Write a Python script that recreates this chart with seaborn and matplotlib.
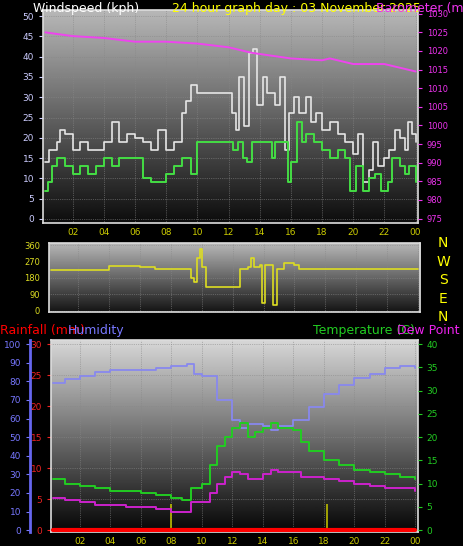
import numpy as np
import pandas as pd
import matplotlib
matplotlib.use("Agg")
import matplotlib.pyplot as plt
import seaborn as sns

sns.set_style("dark")
plt.rcParams['font.family'] = ['DejaVu Sans']

# ---- data ----
gust_h = [0.25,0.5,1,1.2,1.5,2,2.5,3,3.5,4,4.5,5,5.5,6,6.5,7,7.5,8,8.5,9,9.3,9.6,10,12,12.2,12.5,12.7,13,13.3,13.6,13.8,14.2,14.5,15,15.3,15.6,15.9,16.2,16.5,17,17.3,17.6,18,18.5,19,19.5,20,20.3,20.6,21,21.3,21.6,22,22.3,22.7,23,23.3,23.5,23.8,24]
gust_v = [14,17,19,22,21,17,19,17,17,19,24,19,21,20,19,17,22,17,19,26,29,33,31,31,26,22,35,23,41,42,28,35,31,28,35,17,26,30,26,30,24,26,22,24,21,19,16,21,9,12,19,13,15,17,22,20,17,24,21,19]
avg_h = [0.25,0.4,0.7,1,1.5,2,2.5,3,3.5,4,4.5,5,6,6.5,7,8,8.5,9,9.6,10,12,12.3,12.6,12.9,13.2,13.5,14.8,15,15.8,16,16.4,16.7,17,17.5,18,18.5,19,19.5,19.8,20.2,20.6,21,21.4,21.8,22.2,22.5,23,23.3,23.6,24]
avg_v = [7,9,13,15,13,11,13,11,13,15,13,15,15,10,9,11,13,15,11,19,19,17,19,15,14,19,15,19,9,14,24,19,21,19,17,15,17,15,7,13,7,10,11,7,9,15,13,11,13,9]
pres_h = [0.25,2,4,6,8,10,12,13.5,16,18,18.5,20,22,23,24]
pres_v = [1025,1024,1023.5,1022.5,1022.5,1022,1021,1019.5,1018,1017.5,1018,1016.5,1016.5,1015.5,1014.5]
dir_h = [0.2,4,6,7,9.2,9.3,9.5,9.7,9.9,10,10.3,12.3,12.5,13,13.2,13.4,13.8,13.9,14.1,14.5,14.6,14.8,14.9,15.3,16,16.3,24]
dir_v = [225,245,240,230,230,180,160,290,340,240,130,130,230,240,290,240,250,40,250,250,30,30,230,260,250,230,230]
hum_h = [0.25,1,2,3,4,6,7,8,9,9.5,10,11,12,12.5,13,14,14.5,15,16,17,18,19,20,21,22,23,23.5,24]
hum_v = [79,81,83,85,86,86,87,88,89.5,84,83,70,59,55,57,56,54,56,59,66,73,78,82,84,87,88,88,87]
temp_h = [0.25,1,2,3,4,5,6,7,8,8.7,9.3,10,10.5,11,11.5,12,12.5,13,13.5,14,14.5,15,16,16.5,17,18,19,20,21,22,23,24]
temp_v = [11,10,9.5,9,8.5,8.5,8,7.5,7,6.5,9,10,14,18,20,22,23,20,21,22,23,22,21.5,19,17,15,14,13,12.5,12,11.5,11]
dew_h = [0.25,1,2,3,4,5,6,7,8,8.7,9.3,10,10.5,11,11.5,12,12.5,13,14,14.5,15,16,16.5,17,18,19,20,21,22,23,24]
dew_v = [7,6.5,6,5.5,5.5,5,5,4.5,4,3.8,6,6,8,10,11.5,12.5,12,11,12,13,12.5,12.5,11.5,11.5,11,10.5,10,9.5,9,9,8.5]
rain_h = [0.25, 24]
rain_v = [0, 0]
sun_h = [8.0, 18.2]
sun_v = [4.3, 4.3]
xt = list(range(2, 25, 2))
xtl = ["02","04","06","08","10","12","14","16","18","20","22","00"]

fig = plt.figure(figsize=(4.64, 5.46), dpi=100, facecolor='black')

def grad(ax, top, bot, ylim):
    g = np.linspace(bot, top, 256).reshape(-1, 1)
    ax.imshow(g, aspect='auto', cmap='gray', vmin=0, vmax=1, origin='lower',
              extent=[0, 24.2, ylim[0], ylim[1]], zorder=0)
    ax.set_xlim(0.1, 24.15)
    ax.set_ylim(*ylim)
    ax.grid(True, color='#888888', lw=0.5, ls=':', zorder=1)
    for s in ax.spines.values():
        s.set_color('#dddddd'); s.set_linewidth(1.2)
    ax.set_xticks(xt); ax.set_xticklabels(xtl)
    ax.tick_params(axis='x', colors='#cccc00', labelsize=6.5, length=0)

# ---- top ----
ax1 = fig.add_axes([0.0927, 0.5916, 0.808, 0.39])
grad(ax1, 0.72, 0.05, (-1, 51.5))
sns.lineplot(x=gust_h, y=gust_v, ax=ax1, color='#e6e6e6', lw=1.2, drawstyle='steps-post', zorder=3)
sns.lineplot(x=avg_h, y=avg_v, ax=ax1, color='#44dd44', lw=1.4, drawstyle='steps-post', zorder=4)
ax1.set_yticks(range(0, 51, 5))
ax1.tick_params(axis='y', colors='#ccccff', labelsize=6.5, length=3, width=0.8)
ax1b = ax1.twinx()
ax1b.set_ylim(973.8, 1031)
sns.lineplot(x=pres_h, y=pres_v, ax=ax1b, color='#ee44ee', lw=1.4, zorder=5)
ax1b.set_yticks(range(975, 1031, 5))
ax1b.tick_params(axis='y', colors='#ee33ee', labelsize=6, length=3)
ax1b.tick_params(axis='x', labelbottom=False, labeltop=False, length=0)
ax1b.set_xlim(0.1, 24.15)
for s in ax1b.spines.values():
    s.set_visible(False)
fig.text(0.072, 0.996, "Windspeed (kph)", color='white', fontsize=9, va='top')
fig.text(0.37, 0.996, "24 hour graph day : 03 November 2025", color='yellow', fontsize=9, va='top')
fig.text(0.81, 0.996, "Barometer (mb)", color='#ee33ee', fontsize=9, va='top')

# ---- middle ----
ax2 = fig.add_axes([0.1056, 0.4286, 0.80, 0.126])
grad(ax2, 0.72, 0.08, (-8, 372))
sns.lineplot(x=dir_h, y=dir_v, ax=ax2, color='#dddd22', lw=1.2, drawstyle='steps-post', zorder=3)
ax2.set_yticks([0, 90, 180, 270, 360])
ax2.tick_params(axis='y', colors='#dddd22', labelsize=6, length=3)
ax2.tick_params(axis='x', labeltop=False, labelbottom=False)
for i, c in enumerate("NWSEN"):
    fig.text(0.955, 0.555 - i * 0.034, c, color='yellow', fontsize=10, ha='center', va='center')

# ---- bottom ----
ax3 = fig.add_axes([0.11, 0.0256, 0.79, 0.352])
grad(ax3, 0.85, 0.02, (-0.3, 30.7))
ax3.set_yticks(range(0, 31, 5))
ax3.tick_params(axis='y', colors='#ee2222', labelsize=6.5, length=3)
ax3.vlines(sun_h, 0, sun_v, color='#bbbb00', lw=1.2, zorder=3)
sns.lineplot(x=rain_h, y=rain_v, ax=ax3, color='red', lw=3, zorder=6)
axh = ax3.twinx()
axh.yaxis.tick_left()
axh.spines['left'].set_position(('outward', 15))
axh.spines['left'].set_color('#6666ee'); axh.spines['left'].set_linewidth(2)
for k in ['right', 'top', 'bottom']:
    axh.spines[k].set_visible(False)
axh.set_ylim(-1, 102.3)
axh.set_yticks(range(0, 101, 10))
axh.tick_params(axis='y', colors='#7777ff', labelsize=6.5, length=3)
sns.lineplot(x=hum_h, y=hum_v, ax=axh, color='#8888ee', lw=1.3, drawstyle='steps-post', zorder=3)
axt = ax3.twinx()
axt.set_ylim(-0.4, 40.9)
axt.set_yticks(range(0, 41, 5))
axt.tick_params(axis='y', colors='#22cc22', labelsize=6.5, length=3)
for s in axt.spines.values():
    s.set_visible(False)
sns.lineplot(x=temp_h, y=temp_v, ax=axt, color='#22cc22', lw=1.4, drawstyle='steps-post', zorder=4)
sns.lineplot(x=dew_h, y=dew_v, ax=axt, color='#cc22cc', lw=1.4, drawstyle='steps-post', zorder=4)
for a in (axh, axt):
    a.set_xlim(0.1, 24.15); a.set_ylabel(''); a.grid(False)
    a.tick_params(axis='x', labelbottom=False, labeltop=False, length=0)
for a in (ax1, ax1b, ax2, ax3):
    a.set_ylabel('')
fig.text(0.0, 0.395, "Rainfall (mm)", color='red', fontsize=9, va='center')
fig.text(0.145, 0.395, "Humidity", color='#7777ff', fontsize=9, va='center')
fig.text(0.675, 0.395, "Temperature (C)", color='#22cc22', fontsize=9, va='center')
fig.text(0.855, 0.395, "Dew Point (C)", color='#ee22ee', fontsize=9, va='center')

fig.savefig("out.png", dpi=100, facecolor='black')
